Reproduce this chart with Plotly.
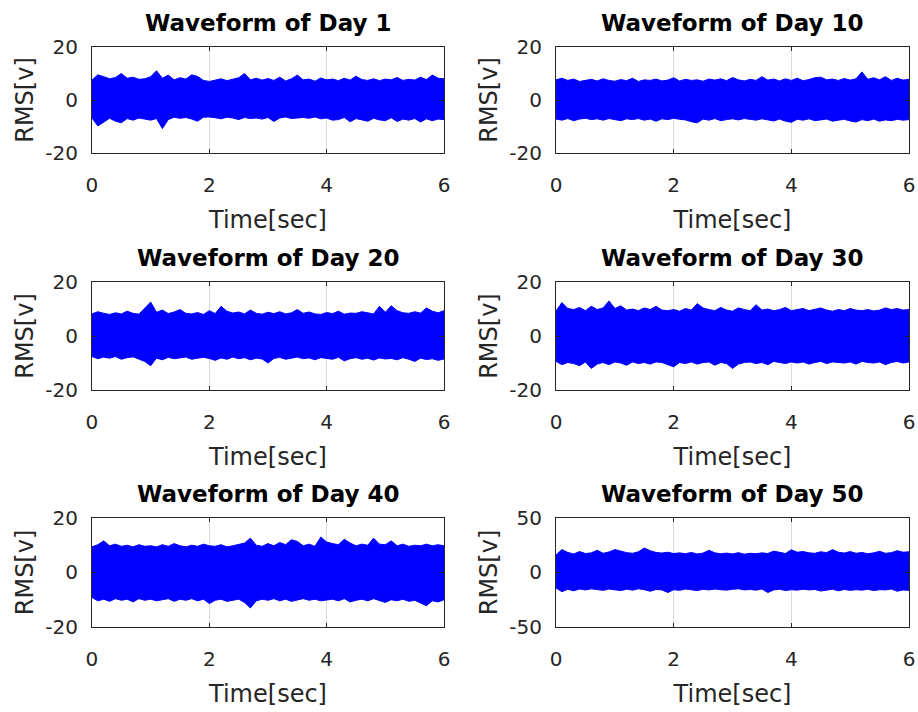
import plotly.graph_objects as go

# Sampling instants (seconds) at which the signal envelope is recorded
time_sec = [round(0.1 * i, 1) for i in range(61)]

day_labels = ["Day 1", "Day 10", "Day 20", "Day 30", "Day 40", "Day 50"]

# Upper / lower envelope of each waveform (volts)
day1_upper = [7.5, 9.5, 8.8, 8.0, 8.5, 10.0, 8.2, 8.6, 7.8, 8.0, 8.8, 11.0, 8.2, 9.4, 7.6, 8.4, 7.9, 9.5, 8.9, 7.4,
              7.0, 7.6, 8.0, 7.3, 7.8, 8.4, 10.0, 7.6, 8.2, 7.5, 8.1, 7.4, 8.6, 7.2, 8.0, 9.4, 7.6, 7.9, 7.1, 8.3,
              7.6, 7.9, 7.3, 8.2, 7.5, 9.0, 7.7, 7.4, 8.0, 7.3, 7.9, 7.6, 8.5, 7.4, 7.8, 7.5, 8.6, 7.7, 9.4, 8.2, 8.0]
day1_lower = [-6.8, -9.8, -8.2, -6.9, -8.0, -8.6, -7.0, -7.6, -6.8, -7.2, -7.6, -7.0, -10.8, -7.4, -6.5, -6.9, -6.6, -7.2, -8.0, -6.5,
              -6.4, -6.7, -7.1, -6.5, -6.8, -7.4, -6.6, -7.0, -6.8, -7.2, -6.6, -8.1, -6.8, -6.4, -7.0, -6.7, -6.6, -6.9, -6.4, -7.1,
              -6.8, -7.6, -7.4, -6.6, -8.2, -7.0, -7.4, -8.0, -6.9, -7.5, -7.8, -6.7, -8.1, -7.2, -7.6, -7.0, -8.3, -7.1, -7.8, -7.2, -7.4]

day10_upper = [7.6, 8.2, 7.4, 7.9, 7.0, 7.5, 7.8, 7.2, 8.0, 7.4, 7.1, 7.7, 7.3, 8.2, 7.0, 7.6, 7.4, 7.9, 7.2, 7.5,
               8.4, 7.2, 7.8, 7.4, 7.6, 7.1, 7.9, 7.5, 8.0, 7.3, 8.5, 7.6, 7.2, 7.8, 7.4, 8.8, 7.5, 7.9, 7.2, 8.0,
               7.4, 8.2, 7.3, 7.7, 8.4, 8.6, 7.6, 7.9, 7.4, 8.1, 7.5, 8.0, 10.6, 7.8, 8.4, 7.6, 8.8, 7.4, 8.2, 7.5, 7.8]
day10_lower = [-7.2, -7.6, -7.0, -7.8, -7.2, -6.9, -7.4, -7.1, -7.6, -7.0, -7.3, -7.8, -7.1, -7.4, -7.0, -7.6, -7.2, -8.0, -7.1, -7.4,
               -6.9, -7.3, -7.5, -8.2, -8.6, -7.2, -7.6, -7.0, -7.8, -7.4, -7.1, -7.5, -7.0, -7.3, -7.6, -7.1, -7.4, -7.9, -7.2, -8.0,
               -8.4, -7.3, -7.6, -7.1, -7.8, -7.4, -7.2, -8.0, -7.6, -7.3, -7.9, -8.3, -7.4, -7.8, -7.2, -8.0, -7.5, -7.8, -7.3, -7.6, -7.4]

day20_upper = [8.2, 9.0, 8.4, 8.0, 8.6, 8.2, 9.2, 8.4, 8.1, 10.5, 12.6, 8.8, 9.6, 8.3, 8.9, 9.8, 8.4, 8.2, 8.7, 8.0,
               9.4, 8.3, 11.0, 9.2, 8.5, 8.9, 8.2, 9.6, 8.4, 8.1, 8.8, 8.3, 9.0, 8.2, 8.6, 9.8, 8.4, 8.9, 8.2, 8.0,
               8.7, 8.3, 9.2, 8.1, 8.5, 8.4, 9.0, 8.6, 8.2, 11.0, 8.8, 11.2, 9.4, 8.6, 8.4, 9.0, 8.5, 10.4, 9.2, 8.6, 9.4]
day20_lower = [-7.6, -8.4, -7.8, -8.2, -7.6, -8.6, -8.0, -7.7, -8.4, -9.4, -11.0, -8.2, -8.8, -7.9, -8.4, -8.0, -7.8, -8.6, -8.2, -7.9,
               -8.3, -9.0, -8.1, -8.6, -7.8, -8.4, -8.0, -8.8, -8.2, -8.5, -10.0, -8.3, -7.9, -8.6, -8.2, -7.8, -8.4, -8.1, -8.8, -8.0,
               -8.3, -8.6, -7.9, -9.2, -8.4, -8.0, -8.6, -8.2, -8.9, -8.1, -8.5, -8.3, -8.8, -8.0, -8.6, -9.4, -8.2, -8.7, -8.4, -9.0, -8.5]

day30_upper = [9.2, 12.4, 10.2, 9.8, 10.6, 9.4, 11.0, 9.8, 10.4, 13.0, 10.2, 11.2, 9.6, 10.0, 9.4, 10.4, 9.8, 11.0, 9.6, 9.4,
               9.8, 9.2, 10.2, 9.6, 12.0, 10.4, 9.8, 9.4, 10.6, 9.6, 9.2, 10.4, 9.8, 9.4, 11.6, 9.6, 10.0, 9.4, 9.8, 10.6,
               9.4, 9.8, 10.2, 9.4, 9.8, 10.4, 9.6, 9.2, 9.8, 9.4, 10.2, 9.6, 9.4, 9.8, 9.3, 9.6, 10.4, 9.8, 10.2, 9.6, 9.8]
day30_lower = [-9.4, -10.6, -9.8, -10.2, -11.0, -9.6, -12.0, -10.4, -9.8, -10.6, -9.6, -10.0, -10.8, -9.6, -10.2, -9.8, -10.4, -9.6, -9.8, -10.6,
               -11.4, -9.8, -10.2, -9.6, -10.4, -9.8, -9.6, -10.8, -9.8, -10.2, -12.0, -10.4, -9.8, -9.6, -10.2, -9.8, -10.6, -9.4, -9.8, -10.2,
               -9.6, -10.0, -9.6, -10.4, -9.8, -9.4, -10.2, -9.6, -9.8, -10.0, -9.6, -10.4, -9.4, -9.8, -10.0, -9.6, -10.6, -9.8, -9.4, -10.0, -9.6]

day40_upper = [9.4, 10.2, 11.6, 9.8, 10.4, 9.6, 10.0, 9.4, 10.2, 9.6, 9.8, 9.4, 10.2, 9.6, 10.6, 9.8, 9.4, 10.0, 9.6, 10.4,
               9.8, 9.6, 10.2, 9.4, 9.8, 10.4, 10.8, 12.6, 10.0, 9.6, 10.6, 9.8, 11.0, 10.2, 12.0, 11.4, 9.8, 10.4, 9.6, 13.0,
               11.2, 10.6, 10.2, 12.2, 10.8, 9.8, 10.4, 10.0, 12.6, 10.4, 10.2, 11.6, 9.8, 10.4, 9.6, 10.0, 9.8, 10.4, 9.8, 10.2, 9.8]
day40_lower = [-9.2, -10.4, -9.8, -10.6, -9.6, -10.2, -9.8, -10.8, -9.6, -10.2, -9.8, -10.4, -10.0, -9.6, -10.6, -9.8, -10.2, -9.6, -10.4, -9.8,
               -11.4, -10.2, -9.8, -10.6, -10.2, -9.8, -11.0, -13.0, -10.4, -9.8, -10.2, -9.6, -10.4, -9.8, -10.6, -10.0, -9.6, -10.2, -9.8, -10.4,
               -10.0, -9.8, -10.4, -9.6, -10.8, -10.2, -9.8, -10.4, -9.6, -10.2, -11.0, -10.0, -10.4, -9.8, -10.6, -10.2, -11.2, -12.2, -10.4, -10.8, -10.0]

day50_upper = [16.0, 21.0, 18.4, 17.0, 19.2, 17.4, 18.0, 20.4, 17.6, 18.8, 21.0, 19.6, 18.2, 17.6, 19.0, 22.4, 20.0, 18.4, 17.8, 18.6,
               17.4, 18.0, 17.2, 18.4, 17.0, 17.8, 20.4, 18.0, 17.2, 17.8, 17.0, 18.2, 16.8, 17.6, 17.2, 18.0, 17.4, 19.6, 18.2, 17.4,
               20.8, 18.6, 19.2, 18.0, 17.6, 19.0, 18.2, 21.0, 18.6, 17.8, 19.2, 17.6, 18.4, 17.2, 18.0, 19.4, 17.6, 18.2, 20.0, 18.6, 19.0]
day50_lower = [-14.2, -17.6, -15.4, -16.8, -15.2, -16.0, -15.0, -15.8, -16.4, -15.2, -15.8, -16.6, -15.4, -16.2, -15.0, -15.8, -17.2, -15.6, -16.0, -18.4,
               -15.8, -16.4, -15.2, -15.8, -16.6, -15.4, -16.0, -15.2, -15.8, -16.2, -15.4, -15.0, -16.0, -15.6, -16.2, -15.2, -18.4, -16.0, -15.4, -16.6,
               -15.8, -16.2, -15.4, -16.0, -15.6, -17.0, -16.2, -15.4, -16.8, -15.6, -16.4, -15.8, -16.2, -15.4, -16.6, -15.8, -16.0, -15.2, -17.2, -16.0, -16.4]

upper_env = [day1_upper, day10_upper, day20_upper, day30_upper, day40_upper, day50_upper]
lower_env = [day1_lower, day10_lower, day20_lower, day30_lower, day40_lower, day50_lower]
y_limits = [20, 20, 20, 20, 20, 50]

x_ticks = [0, 2, 4, 6]

# Panel placement (paper fractions) for the 3 x 2 grid
col_domains = [[0.1002, 0.4837], [0.6057, 0.9902]]
row_domains = [[0.7851, 0.9340], [0.4522, 0.6039], [0.1194, 0.2725]]

FONT = "DejaVu Sans"
INK = "#262626"

fig = go.Figure()
layout = dict(
    width=918, height=712,
    margin=dict(l=0, r=0, t=0, b=0, autoexpand=False),
    paper_bgcolor="white", plot_bgcolor="white",
    showlegend=False,
    font=dict(family=FONT, color=INK),
    annotations=[],
)

for i in range(6):
    row, col = divmod(i, 2)
    n = i + 1
    xa = "x" if n == 1 else f"x{n}"
    ya = "y" if n == 1 else f"y{n}"

    # closed outline: upper envelope forward, lower envelope back
    xs = time_sec + time_sec[::-1]
    ys = upper_env[i] + lower_env[i][::-1]
    fig.add_trace(go.Scatter(
        x=xs, y=ys, xaxis=xa, yaxis=ya,
        mode="lines", fill="toself",
        fillcolor="#0000ff", line=dict(color="#0000ff", width=1),
        hoverinfo="skip",
    ))

    lim = y_limits[i]
    axis_common = dict(
        showline=True, linecolor=INK, linewidth=1, mirror="ticks",
        ticks="inside", ticklen=4, tickcolor=INK,
        showgrid=True, gridcolor="#dcdcdc", gridwidth=1,
        zeroline=False, automargin=False,
        tickfont=dict(family=FONT, size=20, color=INK),
    )
    layout["xaxis" if n == 1 else f"xaxis{n}"] = dict(
        axis_common,
        domain=col_domains[col], anchor=ya,
        range=[0, 6], tickvals=x_ticks, ticktext=[str(v) for v in x_ticks],
        ticklabelstandoff=14,
        title=dict(text="Time[sec]", font=dict(family=FONT, size=24, color=INK), standoff=15),
    )
    layout["yaxis" if n == 1 else f"yaxis{n}"] = dict(
        axis_common,
        domain=row_domains[row], anchor=xa,
        range=[-lim, lim], tickvals=[-lim, 0, lim], ticktext=[str(-lim), "0", str(lim)],
        ticklabelstandoff=9,
        title=dict(text="RMS[v]", font=dict(family=FONT, size=24, color=INK), standoff=4),
    )
    layout["annotations"].append(dict(
        text=f"<b>Waveform of {day_labels[i]}</b>",
        xref="paper", yref="paper",
        x=sum(col_domains[col]) / 2, y=row_domains[row][1] + 24 / 712,
        xanchor="center", yanchor="middle", showarrow=False,
        font=dict(family=FONT, size=23, color="black"),
    ))

fig.update_layout(**layout)
fig.write_html("out.html")
